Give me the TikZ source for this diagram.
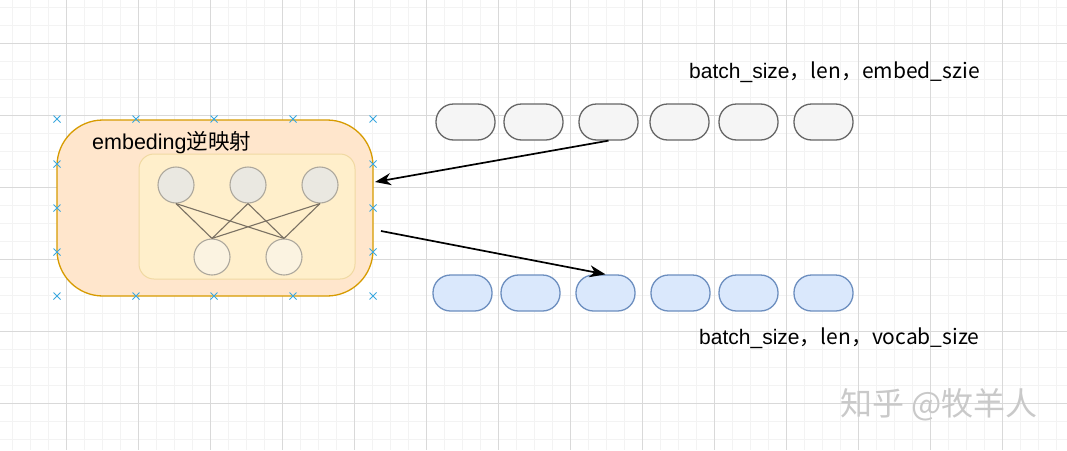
\documentclass[tikz,border=0pt]{standalone}
\usepackage{fontspec}
\setmainfont{Liberation Sans}
\newfontfamily\cjk{Noto Sans CJK SC}
\usetikzlibrary{arrows.meta}
\definecolor{gridmin}{HTML}{F3F3F3}
\definecolor{gridmaj}{HTML}{D9D9D9}
\definecolor{orfill}{HTML}{FFE6CC}
\definecolor{ordraw}{HTML}{D79B00}
\definecolor{infill}{HTML}{FFEFCB}
\definecolor{indraw}{HTML}{F0D9A2}
\definecolor{topfill}{HTML}{EAE8E1}
\definecolor{botfill}{HTML}{FBF3E1}
\definecolor{circdraw}{HTML}{ADA89D}
\definecolor{linkc}{HTML}{7A7163}
\definecolor{grayfill}{HTML}{F5F5F5}
\definecolor{graydraw}{HTML}{666666}
\definecolor{bluefill}{HTML}{DAE8FC}
\definecolor{bluedraw}{HTML}{6C8EBF}
\definecolor{markc}{HTML}{3AA8DF}
\definecolor{wmark}{HTML}{C9C9C9}
\begin{document}
\begin{tikzpicture}[x=1pt,y=-1pt,
  minorline/.style={draw=gridmin,line width=0.8pt},
  majorline/.style={draw=gridmaj,line width=0.9pt},
  pill/.style={rounded corners=17.5pt,minimum width=59pt,minimum height=36pt,inner sep=0pt,line width=1.3pt},
  graypill/.style={pill,fill=grayfill,draw=graydraw},
  bluepill/.style={pill,fill=bluefill,draw=bluedraw},
  neuron/.style={circle,minimum size=36pt,inner sep=0pt,line width=1.1pt,draw=circdraw},
  link/.style={draw=linkc,line width=1.1pt},
  arr/.style={line width=1.7pt,-{Stealth[length=16pt,width=12pt,inset=5pt]}},
  lbl/.style={inner sep=0pt,font=\fontsize{21}{25}\selectfont,anchor=west},
  mk/.style={draw=markc,line width=0.9pt}
]
\useasboundingbox (0,0) rectangle (1067,450);
\fill[white] (0,0) rectangle (1067,450);
% grid
\foreach \i in {0,...,58} \draw[minorline] ({12.5+18*\i},0) -- ({12.5+18*\i},450);
\foreach \i in {0,...,24} \draw[minorline] (0,{7+18*\i}) -- (1067,{7+18*\i});
\foreach \i in {0,...,14} \draw[majorline] ({66.5+72*\i},0) -- ({66.5+72*\i},450);
\foreach \i in {0,...,5} \draw[majorline] (0,{43+72*\i}) -- (1067,{43+72*\i});

% big box
\node[draw=ordraw,fill=orfill,line width=1.3pt,rounded corners=46pt,
      minimum width=316pt,minimum height=176pt,inner sep=0pt] (emb) at (215,208) {};
\node[lbl,font=\fontsize{21.5}{25}\selectfont] (embt) at (92,143) {embeding\cjk{逆映射}};
\node[draw=indraw,fill=infill,line width=1pt,rounded corners=15pt,
      minimum width=216pt,minimum height=125pt,inner sep=0pt] (inner) at (247,216.5) {};

% neurons
\node[neuron,fill=topfill] (t1) at (176,185) {};
\node[neuron,fill=topfill] (t2) at (248,185) {};
\node[neuron,fill=topfill] (t3) at (320,185) {};
\node[neuron,fill=botfill] (u1) at (212,257) {};
\node[neuron,fill=botfill] (u2) at (284,257) {};
\foreach \a in {t1,t2,t3} {
  \draw[link] (\a.south) -- (u1.north);
  \draw[link] (\a.south) -- (u2.north);
}

% markers
\foreach \x in {57,136,214,293,373} {
  \foreach \y in {119,296} {
    \draw[mk] (\x-3.5,\y-3.5) -- (\x+3.5,\y+3.5) (\x-3.5,\y+3.5) -- (\x+3.5,\y-3.5);
  }
}
\foreach \x in {57,373} {
  \foreach \y in {164,208,252} {
    \draw[mk] (\x-3.5,\y-3.5) -- (\x+3.5,\y+3.5) (\x-3.5,\y+3.5) -- (\x+3.5,\y-3.5);
  }
}

% top pills
\node[graypill] (g1) at (465.5,122) {};
\node[graypill] (g2) at (533.5,122) {};
\node[graypill] (g3) at (608.5,122) {};
\node[graypill] (g4) at (679.5,122) {};
\node[graypill] (g5) at (748.5,122) {};
\node[graypill] (g6) at (823.5,122) {};
% bottom pills
\node[bluepill] (b1) at (462.5,293) {};
\node[bluepill] (b2) at (530.5,293) {};
\node[bluepill] (b3) at (605.5,293) {};
\node[bluepill] (b4) at (680.5,293) {};
\node[bluepill] (b5) at (748.5,293) {};
\node[bluepill] (b6) at (823.5,293) {};

% labels
\node[lbl] (topt) at (689,72) {batch\_size\cjk{，}len\cjk{，}embed\_szie};
\node[lbl] (bott) at (699,338) {batch\_size\cjk{，}len\cjk{，}vocab\_size};
\node[inner sep=0pt,anchor=west,text=wmark,font=\cjk\fontsize{32}{35}\selectfont] (wm) at (840,405) {知乎 @牧羊人};

% arrows
\coordinate (inpt) at (375,182);
\coordinate (outpt) at (381,231);
\draw[arr] (g3.south) -- (inpt);
\draw[arr] (outpt) -- (b3.north);
\end{tikzpicture}
\end{document}
